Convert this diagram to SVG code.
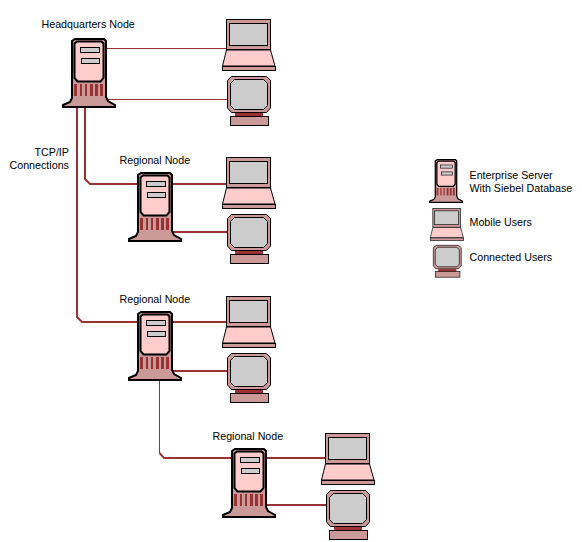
<svg xmlns="http://www.w3.org/2000/svg" width="582" height="542" viewBox="0 0 582 542">
<style>
text{font-family:"Liberation Sans",Arial,sans-serif;font-size:10.700px;fill:#000}
.o{stroke:#000;stroke-width:1}
.ob{stroke:#000;stroke-width:2}
.b{fill:#cc9999}.p{fill:#ffcccc}.g{fill:#cccccc}.r{fill:#993333}
.thin{fill:none;stroke:#993333;stroke-width:1}
.thick{fill:none;stroke:#993333;stroke-width:2}
</style>
<defs>
<symbol id="srv" overflow="visible">
<path class="b ob" d="M13,1H42L44,3V59L46,63L53,67V69H1V67L8,64L10,60V3Z"/>
<path class="p ob" d="M15,3.500H39.500L41.500,5.500V40L38.500,43.500H15.500L12.500,40V5.500Z"/>
<rect class="g o" x="18.500" y="9.500" width="19" height="5"/>
<rect class="g o" x="19.500" y="20.500" width="18" height="5"/>
<path class="r" d="M12,46h3v12h-3zM18,46h2v12h-2zM23,46h2v12h-2zM28,46h3v12h-3zM33,46h3v12h-3zM38,46h3v12h-3z"/>
</symbol>
<symbol id="lap" overflow="visible">
<rect class="b o" x="4.500" y="0.500" width="44" height="30"/>
<rect class="g o" x="7.500" y="4.500" width="38" height="22"/>
<path class="p o" d="M4.500,31H48.500L53,47H0.500Z"/>
<rect class="b o" x="0.500" y="47.500" width="53" height="4"/>
</symbol>
<symbol id="mon" overflow="visible">
<path class="b o" d="M4.500,0.500H39.500L43.500,4.500V32L39.500,36.500H4.500L0.500,32V4.500Z"/>
<path class="g o" d="M7.500,3.500H36.500L40.500,7.500V29.500L36.500,33.500H7.500L3.500,29.500V7.500Z"/>
<rect class="r" x="8" y="37" width="28" height="4"/>
<rect class="o b" x="3.500" y="40.500" width="38" height="9"/>
</symbol>
</defs>
<g id="connectors">
<path class="thin" d="M107,48.500H226M107,99.500H227"/>
<path class="thick" d="M77,107V317L82,322H138"/>
<path class="thick" d="M85,107V179L90,184H138"/>
<path class="thick" d="M172,184H226M172,232H227M172,322H226M172,371H227"/>
<path class="thin" d="M159.500,381V453"/>
<path class="thick" d="M159.500,453L164,458H232M266,458H325M266,505H326"/>
</g>
<g id="hq"><use href="#srv" x="62" y="38"/><text x="41.500" y="28">Headquarters Node</text></g>
<g id="hq-laptop"><use href="#lap" x="222" y="19"/></g>
<g id="hq-monitor"><use href="#mon" x="227" y="76"/></g>
<text id="tcp-label1" x="34.500" y="156">TCP/IP</text>
<text id="tcp-label2" x="9.500" y="169">Connections</text>
<g id="regional1"><use href="#srv" x="128" y="172"/><text x="119.500" y="164">Regional Node</text></g>
<g id="r1-laptop"><use href="#lap" x="222" y="157"/></g>
<g id="r1-monitor"><use href="#mon" x="227" y="214"/></g>
<g id="regional2"><use href="#srv" x="128" y="311"/><text x="119.500" y="303">Regional Node</text></g>
<g id="r2-laptop"><use href="#lap" x="222" y="296"/></g>
<g id="r2-monitor"><use href="#mon" x="227" y="353"/></g>
<g id="regional3"><use href="#srv" x="222" y="448"/><text x="212.500" y="440">Regional Node</text></g>
<g id="r3-laptop"><use href="#lap" x="321" y="433"/></g>
<g id="r3-monitor"><use href="#mon" x="326" y="490"/></g>
<g id="legend-server"><use href="#srv" transform="translate(429,159) scale(0.63)"/><text x="469.500" y="179">Enterprise Server</text><text x="469.500" y="192">With Siebel Database</text></g>
<g id="legend-mobile"><use href="#lap" transform="translate(430,208) scale(0.63)"/><text x="469.500" y="226">Mobile Users</text></g>
<g id="legend-connected"><use href="#mon" transform="translate(433,245) scale(0.65)"/><text x="469.500" y="261">Connected Users</text></g>
</svg>
